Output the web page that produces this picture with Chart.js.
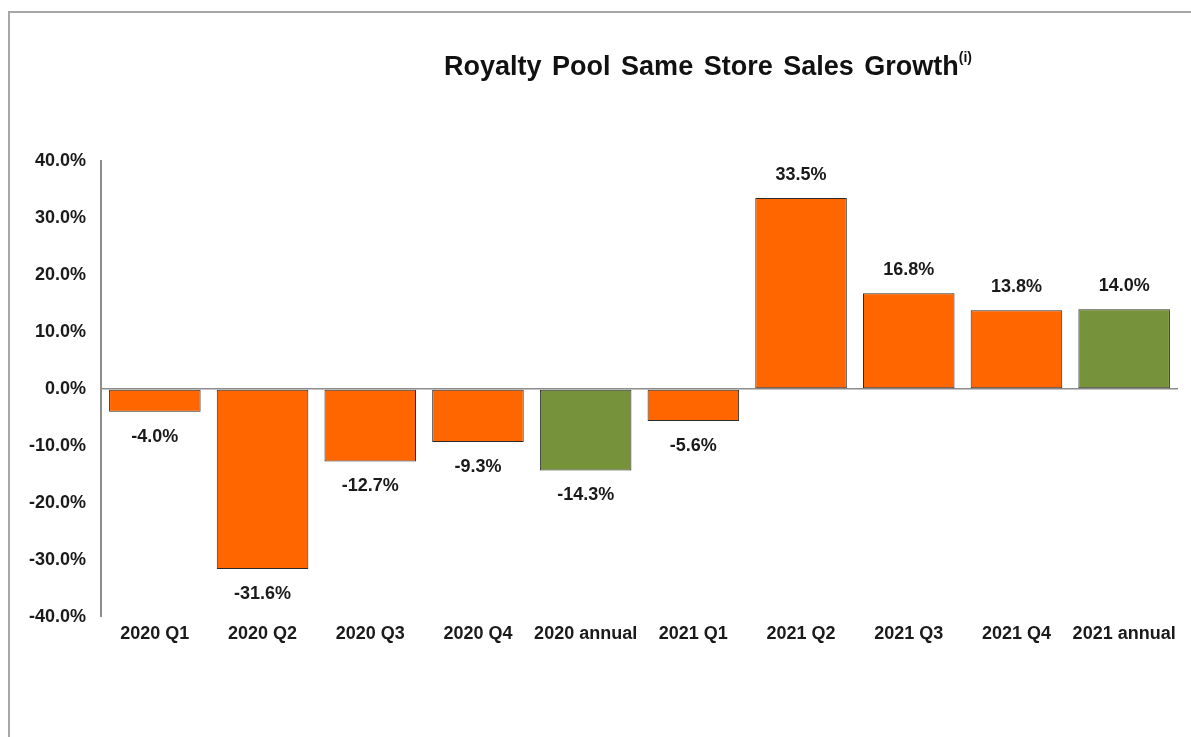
<!DOCTYPE html>
<html>
<head>
<meta charset="utf-8">
<script src="https://cdn.jsdelivr.net/npm/chart.js@4/dist/chart.umd.min.js"></script>
<style>
  html, body { margin: 0; padding: 0; background: #fff; }
  #wrap { position: relative; width: 1191px; height: 737px; overflow: hidden; }
  #frame { position: absolute; left: 8px; top: 11px; right: -10px; bottom: -10px;
           border-left: 2px solid #a6a6a6; border-top: 2px solid #a6a6a6; }
  #title { position: absolute; top: 49px; left: 708px; transform: translateX(-50%);
           font: bold 27px "Liberation Sans", Arial, sans-serif; color: #111; white-space: nowrap;
           line-height: 34px; word-spacing: 3px; }
  #title sup { font-size: 14px; vertical-align: 13px; line-height: 0; }
  canvas { position: absolute; left: 0; top: 0; }
</style>
</head>
<body>
<div id="wrap">
  <div id="frame"></div>
  <canvas id="c" width="1191" height="737"></canvas>
  <div id="title">Royalty Pool Same Store Sales Growth<sup>(i)</sup></div>
</div>
<script>
const categories = ["2020 Q1", "2020 Q2", "2020 Q3", "2020 Q4", "2020 annual",
                    "2021 Q1", "2021 Q2", "2021 Q3", "2021 Q4", "2021 annual"];
const growth = [-4.0, -31.6, -12.7, -9.3, -14.3, -5.6, 33.5, 16.8, 13.8, 14.0];
const isAnnual = [false, false, false, false, true, false, false, false, false, true];
const yTicks = [-40, -30, -20, -10, 0, 10, 20, 30, 40];

const ORANGE = "#FF6600";
const GREEN = "#76933C";
const FONT = '"Liberation Sans", Arial, sans-serif';

const labelPlugin = {
  id: "barLabels",
  afterDatasetsDraw(chart) {
    const ctx = chart.ctx;
    const meta = chart.getDatasetMeta(0);
    ctx.save();
    ctx.font = "bold 18px " + FONT;
    ctx.fillStyle = "#1a1a1a";
    ctx.textAlign = "center";
    ctx.textBaseline = "middle";
    meta.data.forEach((bar, i) => {
      const v = growth[i];
      const y = v >= 0 ? bar.y - 23 : bar.y + 25;
      ctx.fillText(v.toFixed(1) + "%", bar.x, y);
    });
    ctx.restore();
  }
};

new Chart(document.getElementById("c"), {
  type: "bar",
  data: {
    labels: categories,
    datasets: [{
      data: growth,
      backgroundColor: isAnnual.map(a => a ? GREEN : ORANGE),
      borderColor: "#2b2b2b",
      borderWidth: 1,
      borderSkipped: false,
      categoryPercentage: 0.85,
      barPercentage: 1.0
    }]
  },
  options: {
    responsive: false,
    animation: false,
    devicePixelRatio: 1,
    layout: { padding: { left: 0, right: 13, top: 161, bottom: 60 } },
    plugins: { legend: { display: false }, tooltip: { enabled: false }, title: { display: false } },
    scales: {
      x: {
        grid: { display: false, drawTicks: false },
        border: { display: false },
        ticks: { color: "#1a1a1a", font: { family: FONT, size: 18, weight: "bold" }, padding: 6, maxRotation: 0, autoSkip: false },
        afterFit(scale) { scale.height = 60; }
      },
      y: {
        min: -40, max: 40,
        afterBuildTicks(scale) { scale.ticks = yTicks.map(v => ({ value: v })); },
        grid: {
          drawTicks: false,
          color: ctx => (ctx.tick && ctx.tick.value === 0) ? "#8c8c8c" : "rgba(0,0,0,0)",
          lineWidth: ctx => (ctx.tick && ctx.tick.value === 0) ? 1.5 : 0
        },
        border: { display: true, color: "#8c8c8c", width: 2 },
        ticks: {
          color: "#1a1a1a",
          font: { family: FONT, size: 18, weight: "bold" },
          padding: 15,
          callback: v => Number(v).toFixed(1) + "%"
        },
        afterFit(scale) { scale.width = 101; }
      }
    }
  },
  plugins: [labelPlugin]
});
</script>
</body>
</html>
